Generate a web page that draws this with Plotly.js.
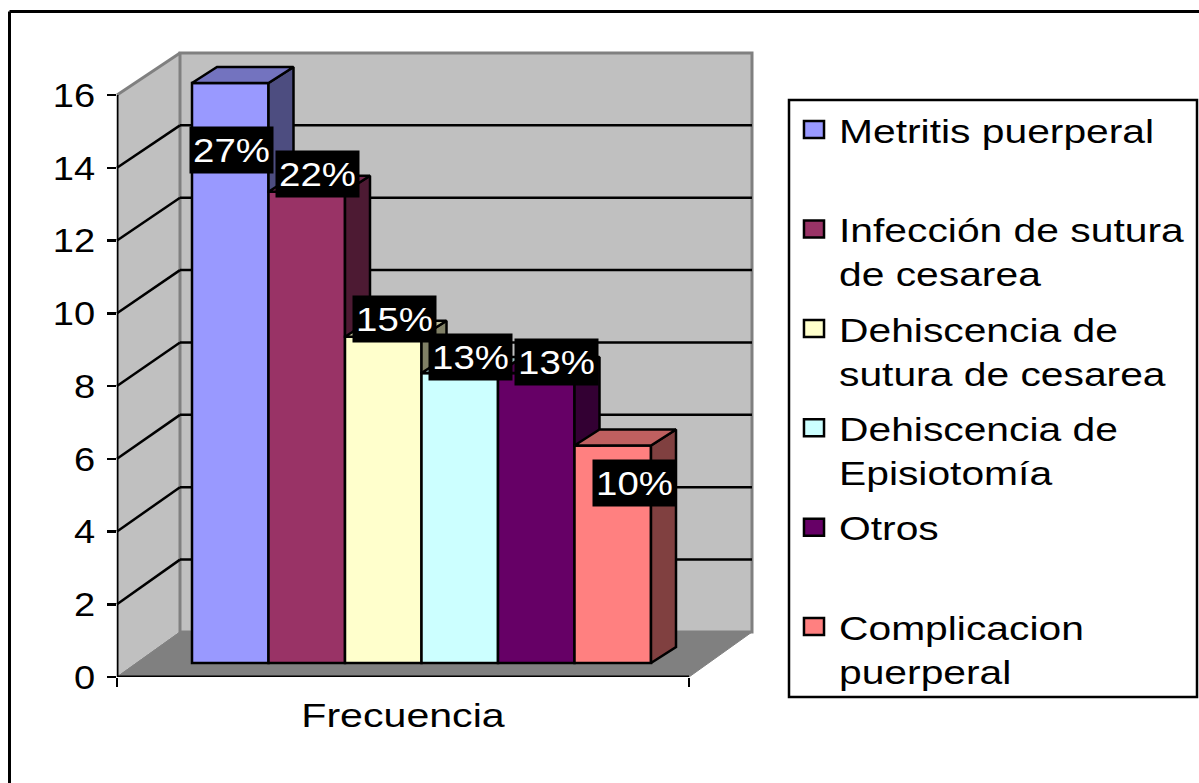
<!DOCTYPE html>
<html><head><meta charset="utf-8">
<script src="https://cdn.plot.ly/plotly-3.0.1.min.js"></script>
<style>
html,body{margin:0;padding:0;background:#fff}
.legendtext{transform-box:fill-box;transform-origin:left center;transform:scaleX(1.2)}
.xtitle{transform-box:fill-box;transform-origin:center;transform:scaleX(1.21)}
.annotation-text{transform-box:fill-box;transform-origin:center;transform:scaleX(1.13)}
g.ytick{transform-box:fill-box;transform-origin:right center;transform:scaleX(1.12)}
.legendpoints path{transform:translate(25px,0) scale(1.67,1.42);vector-effect:non-scaling-stroke;stroke-width:2.5px !important}
</style></head><body><div id="chart" style="width:1199px;height:783px"></div>
<script>
const categories=['Metritis puerperal<br> ','Infección de sutura<br>de cesarea','Dehiscencia de<br>sutura de cesarea','Dehiscencia de<br>Episiotomía','Otros<br> ','Complicacion<br>puerperal'];
const values=[16,13,9,8,8,6];
const percents=['27%','22%','15%','13%','13%','10%'];
const colors=['#9999FF','#993366','#FFFFCC','#CCFFFF','#660066','#FF8080'];
const yTicks=[0,2,4,6,8,10,12,14,16];
const xTitle='Frecuencia';

// page-pixel layout constants
const L=117,R=689,Y0=677,UX=76.5,UY=36.375,T=50,H=627;
const xEnd=(R-L)/UX, yEnd=H/UY;
const ux=p=>(p-L)/UX, uy=p=>(Y0-p)/UY;
const fx=p=>(p-L)/(R-L), fy=p=>(Y0-p)/H;
const wallDx=63/UX, backY=v=>(45+v*36.19)/UY;
// bar plane: its own value scale, zero on the floor 14px behind the front edge
const BAR0=663,BARU=36.25;
const y2=p=>(BAR0-p)/BARU;
const barDepth={dx:25/UX,dy:16/BARU};
const barX=ux(192);
const labelCenters=[[231.5,150],[317.5,174],[394.5,319],[470.5,357],[556.5,362],[634,483]];

function shade(hex,k){const n=parseInt(hex.slice(1),16);
  return 'rgb('+[(n>>16)&255,(n>>8)&255,n&255].map(c=>Math.round(c*k)).join(',')+')';}
const nf=x=>x/xEnd;
const EDGE=2.5;

const bars=categories.map((c,i)=>({type:'bar',name:c,legendgroup:'g'+i,x:[barX+i+0.5],y:[values[i]],width:[1],yaxis:'y2',
  marker:{color:colors[i],line:{color:'#000',width:EDGE}},hoverinfo:'skip'}));
const faces=[];
values.forEach((v,i)=>{
  const x0=barX+i,x1=x0+1,top=v,next=i<values.length-1?values[i+1]:0;
  const low=Math.min(next,top);
  const lowBack=i<values.length-1?low:barDepth.dy;
  faces.push({type:'scatter',mode:'lines',yaxis:'y2',x:[x1,x1+barDepth.dx,x1+barDepth.dx,x1,x1],y:[top,top+barDepth.dy,lowBack,low,top],
    fill:'toself',fillcolor:shade(colors[i],0.5),line:{color:'#000',width:EDGE},showlegend:false,hoverinfo:'skip',cliponaxis:false});
  faces.push({type:'scatter',mode:'lines',yaxis:'y2',x:[x0,x0+barDepth.dx,x1+barDepth.dx,x1,x0],y:[top,top+barDepth.dy,top+barDepth.dy,top,top],
    fill:'toself',fillcolor:shade(colors[i],0.75),line:{color:'#000',width:EDGE},showlegend:false,hoverinfo:'skip',cliponaxis:false});
});
const yMax=yTicks[yTicks.length-1];
const frame=[{type:'scatter',mode:'lines',x:[0,0],y:[0,yMax],line:{color:'#000',width:3},showlegend:false,hoverinfo:'skip',cliponaxis:false},
 {type:'scatter',mode:'lines',x:[0,xEnd,xEnd+wallDx],y:[0,0,backY(0)],line:{color:'#000',width:3},showlegend:false,hoverinfo:'skip',cliponaxis:false}];

const shapes=[];
const poly=(pts,fill,lc,lw)=>shapes.push({type:'path',layer:'below',xref:'paper',yref:'y',
  path:'M'+pts.map(p=>nf(p[0])+','+p[1]).join(' L')+' Z',fillcolor:fill,line:{color:lc,width:lw}});
const ln=(a,b,c,w)=>shapes.push({type:'line',layer:'below',xref:'paper',yref:'y',x0:nf(a[0]),y0:a[1],x1:nf(b[0]),y1:b[1],line:{color:c,width:w}});
poly([[0,0],[wallDx,backY(0)],[wallDx,backY(yMax)],[0,yMax]],'#C0C0C0','#808080',1);
poly([[wallDx,backY(0)],[xEnd+wallDx,backY(0)],[xEnd+wallDx,backY(yMax)],[wallDx,backY(yMax)]],'#C0C0C0','#808080',3);
poly([[0,0],[wallDx,backY(0)],[xEnd+wallDx,backY(0)],[xEnd,0]],'#808080','#808080',1);
ln([0,yMax],[wallDx,backY(yMax)],'#808080',3);
yTicks.filter(t=>t>0&&t<yMax).forEach(t=>{
  ln([0,t],[wallDx,backY(t)],'#000',2.5);
  ln([wallDx,backY(t)],[xEnd+wallDx,backY(t)],'#000',2.5);
});
// outer frame and legend box
const pap=(x0,y0,x1,y1,w)=>({type:'line',xref:'paper',yref:'paper',x0:fx(x0),y0:fy(y0),x1:fx(x1),y1:fy(y1),line:{color:'#000',width:w}});
shapes.push(pap(9.5,11.5,9.5,783,3),pap(9.5,11.5,1199,11.5,3));
shapes.push({type:'rect',xref:'paper',yref:'paper',x0:fx(789),x1:fx(1197),y0:fy(100),y1:fy(697),line:{color:'#000',width:2.5},fillcolor:'rgba(0,0,0,0)'});

const annotations=percents.map((p,i)=>({text:p,xref:'x',yref:'y',x:ux(labelCenters[i][0]),y:uy(labelCenters[i][1]),
  showarrow:false,bgcolor:'#000',width:83,height:46,borderpad:0,valign:'middle',align:'center',
  font:{color:'#fff',size:34,family:'Liberation Sans'}}));

const layout={width:1199,height:783,paper_bgcolor:'#fff',plot_bgcolor:'rgba(0,0,0,0)',
  margin:{l:L,r:1199-R,t:T,b:783-T-H,pad:0,autoexpand:false},
  font:{family:'Liberation Sans',color:'#000',size:34},barmode:'overlay',showlegend:true,
  xaxis:{range:[0,xEnd],tickvals:[0,xEnd],ticktext:['',''],ticks:'outside',ticklen:9,tickwidth:2.5,tickcolor:'#000',
    showgrid:false,zeroline:false,showline:false,fixedrange:true,
    title:{text:xTitle,standoff:10,font:{size:34,family:'Liberation Sans'}},automargin:false},
  yaxis:{range:[0,yEnd],tickvals:yTicks,ticks:'outside',ticklen:9,tickwidth:2.5,tickcolor:'#000',ticklabelstandoff:5,
    tickfont:{size:34,family:'Liberation Sans'},showgrid:false,zeroline:false,showline:false,fixedrange:true,automargin:false},
  yaxis2:{overlaying:'y',range:[y2(Y0),y2(T)],visible:false,fixedrange:true},
  legend:{x:fx(789),xanchor:'left',y:fy(101),yanchor:'top',borderwidth:0,bgcolor:'rgba(0,0,0,0)',
    itemwidth:40,valign:'top',tracegroupgap:8,traceorder:'grouped',font:{size:34,family:'Liberation Sans'},itemclick:false,itemdoubleclick:false},
  shapes,annotations};
Plotly.newPlot('chart',[...bars,...faces,...frame],layout,{displayModeBar:false,staticPlot:true});
</script></body></html>
